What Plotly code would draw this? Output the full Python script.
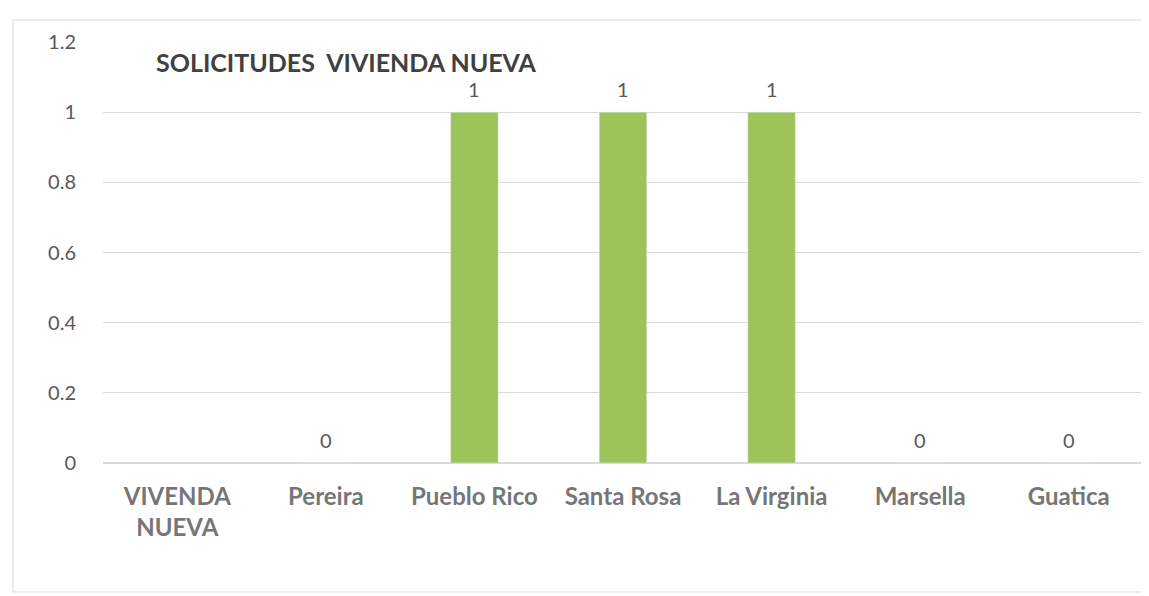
import plotly.graph_objects as go

categories = ["VIVENDA<br>NUEVA", "Pereira", "Pueblo Rico", "Santa Rosa", "La Virginia", "Marsella", "Guatica"]
values = [None, 0, 1, 1, 1, 0, 0]
labels = ["" if v is None else str(v) for v in values]
title_text = "SOLICITUDES  VIVIENDA NUEVA"

FONT = "Lato"
L, R, T, B = 95, 14, 34, 141
W, H = 1149, 596

fig = go.Figure(go.Bar(
    x=categories, y=values, marker_color="#9DC45A", width=0.32,
))

# data labels, placed at each bar's value through the axes
for cat, val, lab in zip(categories, values, labels):
    if val is None:
        continue
    fig.add_annotation(x=cat, y=val, xref="x", yref="y", text=lab, showarrow=False,
                       yanchor="bottom", yshift=9,
                       font=dict(family=FONT, size=20, color="#595959"))

fig.update_layout(
    width=W, height=H,
    margin=dict(l=L, r=R, t=T, b=B),
    paper_bgcolor="white", plot_bgcolor="white",
    showlegend=False,
    font=dict(family=FONT, color="#595959"),
    shapes=[dict(type="rect", xref="paper", yref="paper",
                 x0=(5 - L) / (W - L - R), x1=1.0 + (R - 2) / (W - L - R),
                 y0=-(B - 12) / (H - T - B), y1=1.0 + (T - 12) / (H - T - B),
                 line=dict(color="#d9d9d9", width=1))],
)
fig.add_annotation(text="<b>" + title_text + "</b>", xref="paper", yref="paper",
                   x=(146 - L) / (W - L - R), y=(H - B - 54) / (H - T - B),
                   xanchor="left", yanchor="middle", showarrow=False,
                   font=dict(family=FONT, size=25, color="#404040"))

fig.update_yaxes(range=[0, 1.2], dtick=0.2, showgrid=True, gridcolor="#d9d9d9", zeroline=True,
                 zerolinecolor="#d9d9d9", tickfont=dict(size=20, color="#595959"),
                 ticks="outside", ticklen=22, tickcolor="rgba(0,0,0,0)")
fig.update_xaxes(tickfont=dict(size=24, color="#767676", family=FONT), ticks="outside",
                 ticklen=12, tickcolor="rgba(0,0,0,0)", tickprefix="<b>", ticksuffix="</b>",
                 showline=True, linecolor="#d9d9d9")

fig.write_html("out.html")
